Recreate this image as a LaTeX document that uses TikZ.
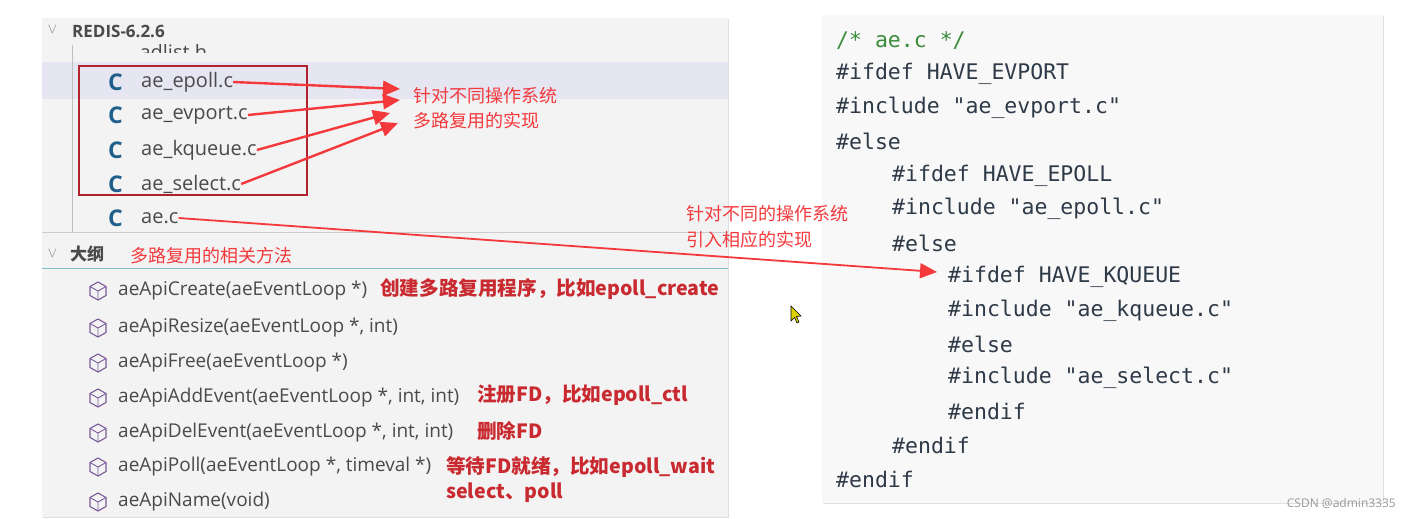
\documentclass[tikz,border=0pt]{standalone}
\usepackage{fontspec}
\setmainfont{Open Sans}
\newfontfamily\cjk{Noto Sans CJK SC}
\setmonofont{DejaVu Sans Mono}
\usetikzlibrary{arrows.meta,shadows,calc}
\definecolor{panel}{HTML}{F3F3F3}
\definecolor{codebg}{HTML}{F8F8F8}
\definecolor{hl}{HTML}{E6E6F3}
\definecolor{boxred}{HTML}{B0222C}
\definecolor{arr}{HTML}{F4393C}
\definecolor{note}{HTML}{C82A30}
\definecolor{ctext}{HTML}{4A4A4A}
\definecolor{cblue}{HTML}{1F5F8B}
\definecolor{cmt}{HTML}{3C8C3C}
\definecolor{kw}{HTML}{2E3A48}
\definecolor{icon}{HTML}{7A5A9A}
\tikzset{
 file/.style={anchor=west,font=\fontsize{20}{20}\selectfont,text=ctext,inner sep=0},
 cicon/.style={anchor=west,font=\fontsize{23}{23}\selectfont\bfseries,text=cblue,inner sep=0},
 meth/.style={anchor=west,font=\fontsize{19}{19}\selectfont,text=ctext,inner sep=0},
 noteb/.style={anchor=west,font=\fontsize{19.6}{19.6}\selectfont\cjk\bfseries,text=note,inner sep=0},
 notel/.style={anchor=west,font=\fontsize{18}{18}\selectfont\cjk,text=arr,inner sep=0},
 code/.style={anchor=west,font=\ttfamily\fontsize{21.5}{21.5}\selectfont,text=kw,inner sep=0},
 redarrow/.style={draw=arr,line width=2.4pt,-{Triangle[length=17pt,width=15pt]}}
}
\begin{document}
\begin{tikzpicture}[x=1pt,y=-1pt]
\useasboundingbox (0,0) rectangle (1411,519);
\fill[white] (0,0) rectangle (1411,519);
% left panel
\fill[panel,drop shadow={opacity=0.25,shadow xshift=1pt,shadow yshift=-1pt}] (42,18) rectangle (728,517);
\fill[hl] (42,62) rectangle (728,99);
\node[anchor=west,font=\fontsize{20}{20}\selectfont,text=ctext] (adl) at (136,52) {adlist.h};
\fill[panel] (90,53.5) rectangle (320,61.5);
\fill[panel] (90,40) rectangle (320,44.5);
\draw[gray!50] (72,45) -- (72,232);
\draw[gray!40] (42,232) -- (728,232);
\draw[teal!50,line width=1pt] (42,268) -- (728,268);
\node[anchor=west,font=\fontsize{15}{15}\selectfont,text=gray] (chev1) at (44,30) {$\vee$};
\node[anchor=west,font=\fontsize{17}{17}\selectfont\bfseries,text=ctext,inner sep=0] (root) at (72,31) {REDIS-6.2.6};
\foreach \n/\t/\y in {ep/ae\_epoll.c/82, ev/ae\_evport.c/115, kq/ae\_kqueue.c/150, se/ae\_select.c/184, ae/ae.c/218}{
  \node[cicon] (c\n) at (108,\y) {C};
  \node[file] (f\n) at (141,\y) {\t};
}
\draw[boxred,line width=2.4pt] (79,66) rectangle (307,195);
\node[anchor=west,font=\fontsize{15}{15}\selectfont,text=gray] (chev2) at (44,253) {$\vee$};
\node[anchor=west,font=\fontsize{17}{17}\selectfont\cjk\bfseries,text=ctext,inner sep=0] (dg) at (70,254) {大纲};
\node[notel] (n0) at (130,256) {多路复用的相关方法};
% methods
\foreach \n/\t/\y in {m1/aeApiCreate(aeEventLoop *)/291, m2/{aeApiResize(aeEventLoop *, int)}/328, m3/aeApiFree(aeEventLoop *)/363, m4/{aeApiAddEvent(aeEventLoop *, int, int)}/398, m5/{aeApiDelEvent(aeEventLoop *, int, int)}/433, m6/{aeApiPoll(aeEventLoop *, timeval *)}/467, m7/aeApiName(void)/502}{
  \coordinate (i\n) at (98,\y);
  \draw[icon,line width=1.1pt] ($(i\n)+(0,-9)$) -- ++(8,4.5) -- ++(0,9) -- ++(-8,4.5) -- ++(-8,-4.5) -- ++(0,-9) -- cycle;
  \draw[icon,line width=0.9pt] ($(i\n)+(-8,-4.5)$) -- (i\n) -- ($(i\n)+(8,-4.5)$) (i\n) -- ($(i\n)+(0,9)$);
  \node[meth] (\n) at (118,\y) {\t};
}
\node[noteb] (a1) at (380,289) {创建多路复用程序，比如epoll\_create};
\node[noteb] (a4) at (477,395) {注册FD，比如epoll\_ctl};
\node[noteb] (a5) at (477,431) {删除FD};
\node[noteb] (a6) at (446,467) {等待FD就绪，比如epoll\_wait};
\node[noteb] (a7) at (446,493) {select、poll};
% code panel
\fill[codebg,drop shadow={opacity=0.25,shadow xshift=1pt,shadow yshift=-1pt}] (822,15) rectangle (1383,503);
\node[code,text=cmt] (k1) at (836,41) {/* ae.c */};
\node[code] (k2) at (836,74) {\#ifdef HAVE\_EVPORT};
\node[code] (k3) at (836,108) {\#include "ae\_evport.c"};
\node[code] (k4) at (836,141) {\#else};
\node[code] (k5) at (892,176) {\#ifdef HAVE\_EPOLL};
\node[code] (k6) at (892,209) {\#include "ae\_epoll.c"};
\node[code] (k7) at (892,243) {\#else};
\node[code] (k8) at (948,277) {\#ifdef HAVE\_KQUEUE};
\node[code] (k9) at (948,311) {\#include "ae\_kqueue.c"};
\node[code] (k10) at (948,344) {\#else};
\node[code] (k11) at (948,378) {\#include "ae\_select.c"};
\node[code] (k12) at (948,411) {\#endif};
\node[code] (k13) at (892,445) {\#endif};
\node[code] (k14) at (836,479) {\#endif};
% labels
\node[notel] (l1) at (413,96) {针对不同操作系统};
\node[notel] (l2) at (413,121) {多路复用的实现};
\node[notel] (l3) at (686,214) {针对不同的操作系统};
\node[notel] (l4) at (686,240) {引入相应的实现};
% arrows
\coordinate (t1) at (400,89);
\coordinate (t2) at (400,100);
\coordinate (t3) at (390,113);
\coordinate (t4) at (398,123);
\coordinate (t5) at (937,272);
\draw[redarrow] (fep.east) -- (t1);
\draw[redarrow] (fev.east) -- (t2);
\draw[redarrow] (fkq.east) -- (t3);
\draw[redarrow] (fse.east) -- (t4);
\draw[redarrow,line width=1.8pt] (fae.east) -- (t5);
% cursor
\draw[fill=yellow!70!olive,draw=black,line width=0.6pt] (791,306) -- (791,321) -- (794.5,317.5) -- (797,323) -- (799,322) -- (796.5,316.5) -- (801,316) -- cycle;
\node[anchor=east,font=\fontsize{12}{12}\selectfont,text=gray!80,inner sep=0] (wm) at (1396,503) {CSDN @admin3335};
\end{tikzpicture}
\end{document}
